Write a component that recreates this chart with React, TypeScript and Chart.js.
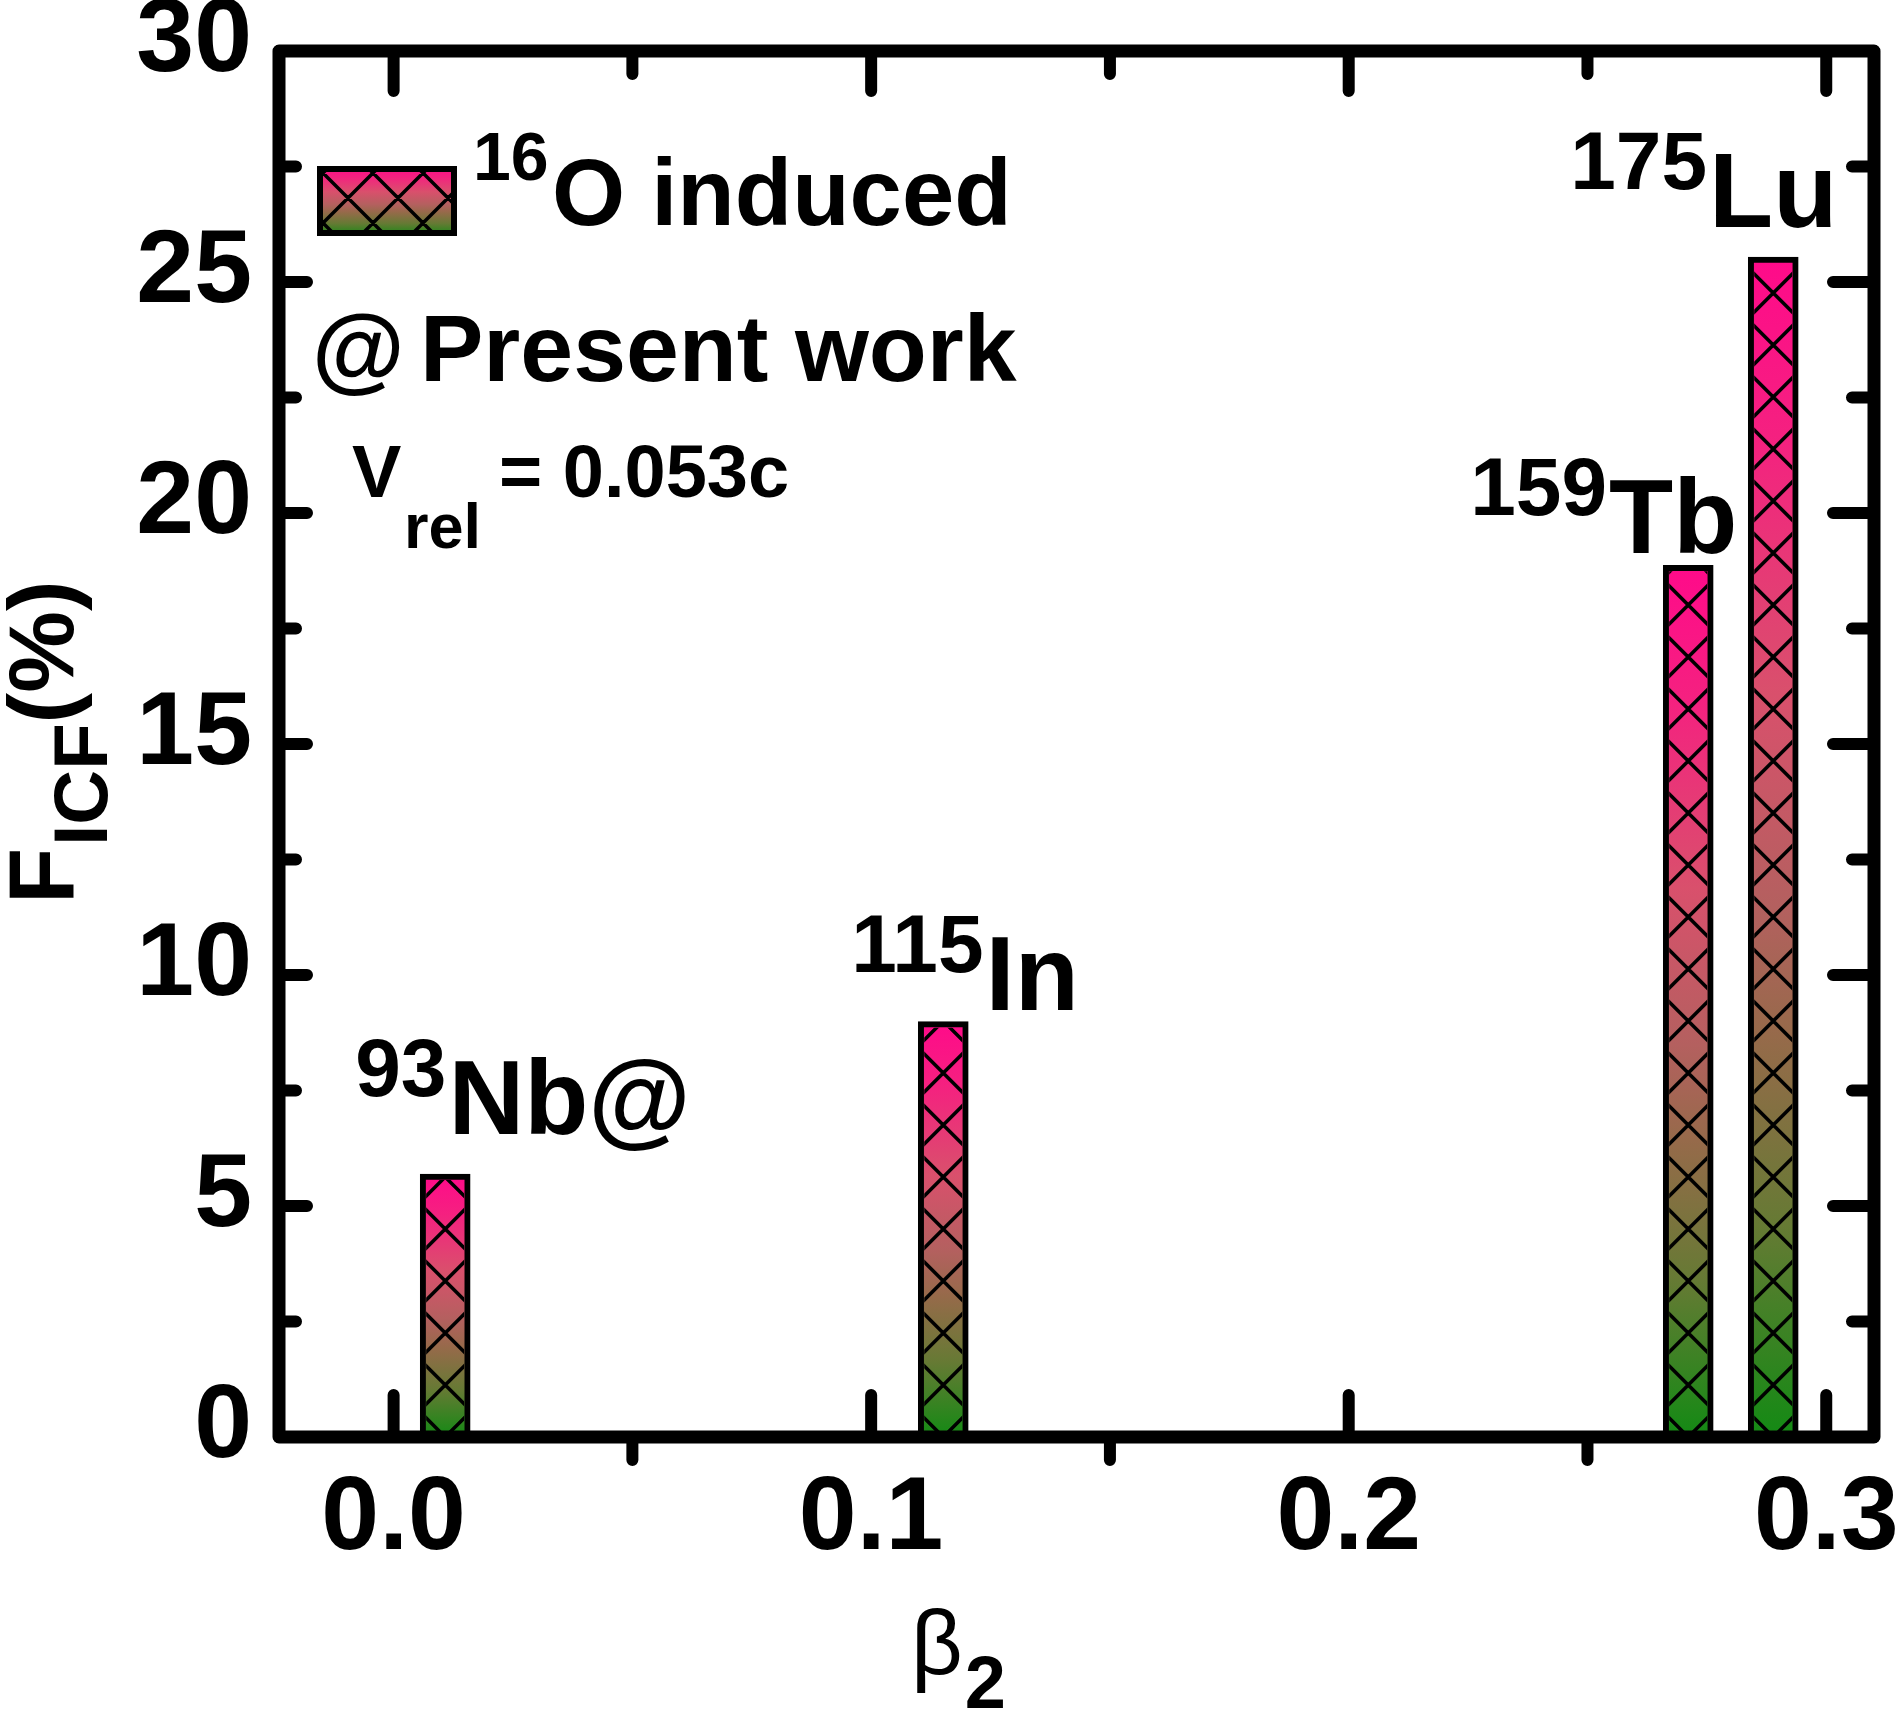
import { useEffect, useRef } from 'react';
import { Chart, registerables } from 'chart.js';

Chart.register(...registerables);

// values
const BETA2 = [0.0108, 0.1151, 0.2711, 0.2889];
const F_ICF = [5.69, 8.99, 18.87, 25.54];
const MASS = ['93', '115', '159', '175'];
const ELEMENT = ['Nb@', 'In', 'Tb', 'Lu'];

const X_TICKS = [0, 0.1, 0.2, 0.3];
const X_MINOR = [0.05, 0.15, 0.25];
const Y_TICKS = [0, 5, 10, 15, 20, 25, 30];
const Y_MINOR = [2.5, 7.5, 12.5, 17.5, 22.5, 27.5];

const W = 1900;
const H = 1714;
const FONT = '"Liberation Sans", Arial, sans-serif';
const BAR_BORDER = 6;
const HATCH = 52;

// label placement: [dx of mass number from bar centre, dy of baseline from bar top]
const LABEL_OFFSETS = [
  [-90, -40],
  [-92, -12],
  [-218, -12],
  [-203, -30],
];

function gradient(ctx: CanvasRenderingContext2D, top: number, bottom: number) {
  const g = ctx.createLinearGradient(0, top, 0, bottom);
  g.addColorStop(0, '#ff0a8a');
  g.addColorStop(0.15, '#f52080');
  g.addColorStop(0.37, '#d9506c');
  g.addColorStop(0.55, '#b4605f');
  g.addColorStop(0.66, '#966a4a');
  g.addColorStop(0.82, '#667a34');
  g.addColorStop(1, '#138a14');
  return g;
}

function hatch(
  ctx: CanvasRenderingContext2D,
  l: number, t: number, r: number, b: number,
  ax: number, ay: number, p: number
) {
  ctx.save();
  ctx.beginPath();
  ctx.rect(l, t, r - l, b - t);
  ctx.clip();
  ctx.strokeStyle = '#000';
  ctx.lineWidth = 3.5;
  ctx.beginPath();
  const x0 = l - 5;
  const x1 = r + 5;
  // lines x + y = c
  const s0 = ax + ay;
  for (let k = Math.floor((l + t - s0) / p) - 1; k <= Math.ceil((r + b - s0) / p) + 1; k++) {
    const c = s0 + k * p;
    ctx.moveTo(x0, c - x0);
    ctx.lineTo(x1, c - x1);
  }
  // lines x - y = c
  const d0 = ax - ay;
  for (let k = Math.floor((l - b - d0) / p) - 1; k <= Math.ceil((r - t - d0) / p) + 1; k++) {
    const c = d0 + k * p;
    ctx.moveTo(x0, x0 - c);
    ctx.lineTo(x1, x1 - c);
  }
  ctx.stroke();
  ctx.restore();
}

function font(size: number, bold = true) {
  return `${bold ? 'bold ' : ''}${size}px ${FONT}`;
}

const decor = {
  id: 'decor',
  afterDatasetsDraw(chart: any) {
    const ctx = chart.ctx as CanvasRenderingContext2D;
    const meta = chart.getDatasetMeta(0);
    meta.data.forEach((bar: any) => {
      const { x, y, base, width } = bar.getProps(['x', 'y', 'base', 'width'], true);
      hatch(ctx, x - width / 2 + BAR_BORDER, y + BAR_BORDER, x + width / 2 - BAR_BORDER, base - BAR_BORDER, x, base, HATCH);
    });
  },
  afterDraw(chart: any) {
    const ctx = chart.ctx as CanvasRenderingContext2D;
    const { left, right, top, bottom } = chart.chartArea;
    const xs = chart.scales.x;
    const ys = chart.scales.y;

    ctx.save();
    ctx.strokeStyle = '#000';
    ctx.lineCap = 'round';
    ctx.lineWidth = 12;
    ctx.beginPath();
    X_TICKS.forEach((v) => {
      const px = xs.getPixelForValue(v);
      ctx.moveTo(px, top); ctx.lineTo(px, top + 40);
      ctx.moveTo(px, bottom); ctx.lineTo(px, bottom - 42);
    });
    X_MINOR.forEach((v) => {
      const px = xs.getPixelForValue(v);
      ctx.moveTo(px, top); ctx.lineTo(px, top + 23);
      ctx.moveTo(px, bottom); ctx.lineTo(px, bottom + 23);
    });
    Y_TICKS.forEach((v) => {
      const py = ys.getPixelForValue(v);
      ctx.moveTo(left, py); ctx.lineTo(left + 28, py);
      ctx.moveTo(right, py); ctx.lineTo(right - 41, py);
    });
    Y_MINOR.forEach((v) => {
      const py = ys.getPixelForValue(v);
      ctx.moveTo(left, py); ctx.lineTo(left + 17, py);
      ctx.moveTo(right, py); ctx.lineTo(right - 22, py);
    });
    ctx.stroke();

    ctx.lineWidth = 13;
    ctx.lineJoin = 'round';
    ctx.strokeRect(left, top, right - left, bottom - top);

    ctx.fillStyle = '#000';
    ctx.textAlign = 'left';
    ctx.textBaseline = 'alphabetic';

    // labels above the bars
    const meta = chart.getDatasetMeta(0);
    meta.data.forEach((bar: any, i: number) => {
      const { x, y } = bar.getProps(['x', 'y'], true);
      const [dx, dy] = LABEL_OFFSETS[i];
      const bx = x + dx;
      const by = y + dy;
      ctx.font = font(82);
      ctx.fillText(MASS[i], bx, by - 38);
      const w = ctx.measureText(MASS[i]).width;
      ctx.font = font(105);
      ctx.fillText(ELEMENT[i], bx + w + 2, by);
    });

    // legend box
    const lx0 = 317, ly0 = 166, lx1 = 457, ly1 = 236;
    ctx.fillStyle = gradient(ctx, ly0, ly1);
    ctx.fillRect(lx0, ly0, lx1 - lx0, ly1 - ly0);
    hatch(ctx, lx0, ly0, lx1, ly1, 348, 198, 50);
    ctx.lineWidth = 6;
    ctx.lineJoin = 'miter';
    ctx.strokeRect(lx0 + 3, ly0 + 3, lx1 - lx0 - 6, ly1 - ly0 - 6);

    ctx.fillStyle = '#000';
    ctx.font = font(68);
    ctx.fillText('16', 473, 180);
    ctx.font = font(94);
    ctx.fillText('O induced', 552, 225);

    ctx.font = font(95);
    ctx.fillText('@', 312, 381);
    ctx.fillText('Present work', 420, 381);

    ctx.font = font(74);
    ctx.fillText('V', 352, 497);
    ctx.font = font(63);
    ctx.fillText('rel', 404, 548);
    ctx.font = font(74);
    ctx.fillText('= 0.053c', 499, 497);

    // x title
    ctx.font = font(90, false);
    ctx.fillText('\u03b2', 911, 1674);
    const bw = ctx.measureText('\u03b2').width;
    ctx.font = font(74);
    ctx.fillText('2', 911 + bw + 2, 1708);

    // y title
    ctx.save();
    ctx.translate(73, 904);
    ctx.rotate(-Math.PI / 2);
    ctx.font = font(92);
    ctx.fillText('F', 0, 0);
    let off = ctx.measureText('F').width;
    ctx.font = font(76);
    ctx.fillText('ICF', off + 2, 34);
    off += 2 + ctx.measureText('ICF').width;
    ctx.font = font(92);
    ctx.fillText('(%)', off, 0);
    ctx.restore();

    ctx.restore();
  },
};

export default function App() {
  const canvasRef = useRef<HTMLCanvasElement>(null);
  const chartRef = useRef<Chart | null>(null);

  useEffect(() => {
    if (!canvasRef.current) return;
    if (chartRef.current) chartRef.current.destroy();

    chartRef.current = new Chart(canvasRef.current, {
      type: 'bar',
      data: {
        datasets: [
          {
            data: BETA2.map((b, i) => ({ x: b, y: F_ICF[i] })),
            barThickness: 50,
            borderWidth: BAR_BORDER,
            borderColor: '#000',
            borderSkipped: false,
            backgroundColor: (c: any) => {
              const ch = c.chart;
              if (!ch.chartArea || c.raw == null) return '#ff0a8a';
              const ys = ch.scales.y;
              return gradient(ch.ctx, ys.getPixelForValue(c.raw.y), ys.getPixelForValue(0));
            },
          },
        ],
      },
      options: {
        responsive: false,
        animation: false,
        devicePixelRatio: 1,
        layout: { padding: { left: 0, top: 51, right: 26, bottom: 0 } },
        plugins: { legend: { display: false }, tooltip: { enabled: false } },
        scales: {
          x: {
            type: 'linear',
            min: -0.024,
            max: 0.31,
            offset: false,
            grid: { display: false, drawTicks: false, offset: false },
            border: { display: false },
            afterBuildTicks: (s: any) => {
              s.ticks = X_TICKS.map((v) => ({ value: v }));
            },
            afterFit: (s: any) => {
              s.height = H - 1437;
              s.paddingLeft = 0;
              s.paddingRight = 0;
            },
            ticks: {
              autoSkip: false,
              maxRotation: 0,
              padding: 21,
              color: '#000',
              font: { family: FONT, size: 104, weight: 'bold' },
              callback: (v: any) => Number(v).toFixed(1),
            },
          },
          y: {
            type: 'linear',
            min: 0,
            max: 30,
            grid: { display: false, drawTicks: false },
            border: { display: false },
            afterBuildTicks: (s: any) => {
              s.ticks = Y_TICKS.map((v) => ({ value: v }));
            },
            afterFit: (s: any) => {
              s.width = 279;
              s.paddingTop = 0;
              s.paddingBottom = 0;
            },
            ticks: {
              padding: 27,
              labelOffset: -9,
              color: '#000',
              font: { family: FONT, size: 104, weight: 'bold' },
              callback: (v: any) => String(v),
            },
          },
        },
      },
      plugins: [decor],
    } as any);

    return () => {
      chartRef.current?.destroy();
      chartRef.current = null;
    };
  }, []);

  return (
    <div style={{ position: 'absolute', left: 0, top: 0, width: W, height: H, background: '#fff' }}>
      <canvas ref={canvasRef} width={W} height={H} style={{ width: W, height: H, display: 'block' }} />
    </div>
  );
}
